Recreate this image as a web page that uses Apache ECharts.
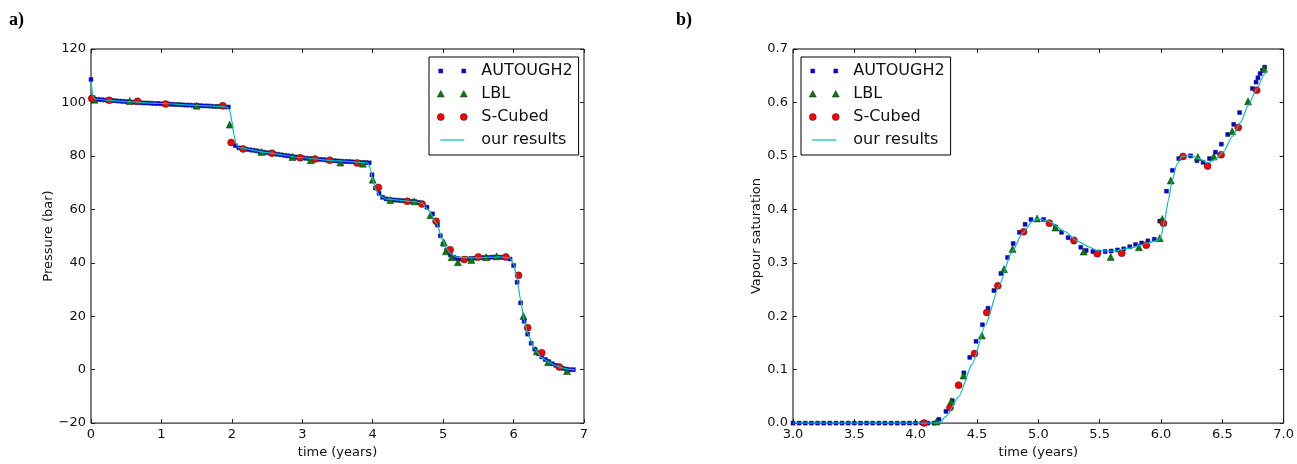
<!DOCTYPE html>
<html>
<head>
<meta charset="utf-8">
<script src="https://cdn.jsdelivr.net/npm/echarts@6/dist/echarts.min.js"></script>
<style>
html,body{margin:0;padding:0;background:#fff;}
#chart{width:1297px;height:464px;}
</style>
</head>
<body>
<div id="chart"></div>
<script>
// ---------- Panel a) Pressure (bar) vs time (years) ----------
const pressureAutough2 = [
  [0.00,108.6],[0.03,101.8],[0.05,101.2],[0.10,101.1],[0.15,101.0],[0.20,100.9],[0.25,100.8],[0.30,100.7],
  [0.35,100.6],[0.40,100.5],[0.45,100.4],[0.50,100.3],[0.55,100.2],[0.60,100.1],[0.65,100.0],[0.70,99.9],
  [0.75,99.8],[0.80,99.8],[0.85,99.7],[0.90,99.6],[0.95,99.6],[1.00,99.5],[1.05,99.4],[1.10,99.4],
  [1.15,99.3],[1.20,99.2],[1.25,99.2],[1.30,99.1],[1.35,99.0],[1.40,99.0],[1.45,98.9],[1.50,98.9],
  [1.55,98.8],[1.60,98.7],[1.65,98.7],[1.70,98.6],[1.75,98.5],[1.80,98.5],[1.85,98.4],[1.90,98.3],[1.95,98.3],
  [2.05,83.8],[2.10,83.0],[2.15,82.7],[2.20,82.5],[2.25,82.3],[2.30,82.1],[2.35,81.9],[2.40,81.6],[2.45,81.4],
  [2.50,81.2],[2.55,81.0],[2.60,80.8],[2.65,80.6],[2.70,80.4],[2.75,80.2],[2.80,80.0],[2.85,79.8],[2.90,79.6],
  [2.95,79.4],[3.00,79.3],[3.05,79.1],[3.10,79.0],[3.15,78.9],[3.20,78.8],[3.25,78.7],[3.30,78.6],[3.35,78.4],
  [3.40,78.3],[3.45,78.2],[3.50,78.1],[3.55,78.0],[3.60,77.9],[3.65,77.9],[3.70,77.8],[3.75,77.7],[3.80,77.6],
  [3.85,77.5],[3.90,77.5],[3.95,77.4],
  [3.99,72.9],[4.04,68.0],[4.09,66.0],[4.14,64.5],[4.19,63.9],[4.25,63.6],[4.30,63.5],[4.35,63.4],[4.40,63.3],
  [4.45,63.2],[4.50,63.1],[4.55,63.0],[4.60,62.9],[4.65,62.6],[4.70,62.0],[4.77,60.8],[4.85,58.3],[4.92,54.1],
  [4.96,50.1],[5.00,47.0],[5.05,44.6],[5.10,43.0],[5.15,42.1],[5.20,41.6],[5.25,41.4],[5.30,41.4],[5.35,41.5],
  [5.40,41.6],[5.45,41.7],[5.50,41.8],[5.55,41.9],[5.60,42.0],[5.65,42.0],[5.70,42.1],[5.75,42.1],[5.80,42.1],
  [5.85,42.0],[5.90,41.9],[5.95,41.4],
  [6.00,39.0],[6.05,32.7],[6.10,25.0],[6.15,18.1],[6.20,13.3],[6.25,9.9],[6.30,7.7],[6.35,6.0],[6.40,4.8],
  [6.45,3.8],[6.50,3.0],[6.55,2.2],[6.60,1.6],[6.65,1.0],[6.70,0.5],[6.75,0.2],[6.80,0.0],[6.85,0.0]
];
const pressureLbl = [
  [0.05,101.0],[0.55,100.5],[1.50,98.8],[1.97,91.7],[2.42,81.5],[2.86,79.6],[3.12,78.4],[3.54,77.5],
  [3.86,77.1],[4.00,71.1],[4.25,63.5],[4.59,63.0],[4.82,57.8],[5.01,47.6],[5.04,44.3],[5.12,42.1],
  [5.21,40.2],[5.40,41.0],[5.61,42.1],[5.76,42.4],[6.14,20.1],[6.33,6.9],[6.49,2.8],[6.76,-0.5]
];
const pressureSCubed = [
  [0.01,101.5],[0.26,100.8],[0.66,100.4],[1.06,99.4],[1.87,98.8],[1.99,85.0],[2.16,82.6],[2.57,81.0],
  [2.97,79.3],[3.18,78.8],[3.39,78.4],[3.78,77.3],[4.08,68.2],[4.49,63.0],[4.70,62.0],[4.90,55.5],
  [5.10,44.9],[5.30,41.2],[5.50,42.2],[5.89,42.2],[6.07,35.3],[6.20,15.7],[6.40,6.3],[6.65,1.0]
];
const pressureOurs = [
  [0.00,108.0],[0.03,102.0],[0.06,101.2],[0.50,100.3],[1.00,99.6],[1.50,98.9],[1.93,98.3],[1.97,97.0],
  [2.00,93.0],[2.03,88.0],[2.06,84.5],[2.10,83.1],[2.50,81.2],[3.00,79.3],[3.50,78.1],[3.93,77.4],
  [3.97,75.0],[4.00,71.0],[4.05,67.0],[4.10,65.0],[4.20,63.8],[4.60,62.9],[4.70,62.2],[4.80,59.5],
  [4.90,55.0],[5.00,48.0],[5.05,45.3],[5.10,43.5],[5.20,42.0],[5.40,41.8],[5.80,42.2],[5.95,41.8],
  [6.00,39.5],[6.05,34.0],[6.10,26.0],[6.15,18.5],[6.20,13.5],[6.30,7.8],[6.40,4.5],[6.50,2.8],
  [6.60,1.5],[6.70,0.6],[6.80,0.1],[6.87,0.0]
];

// ---------- Panel b) Vapour saturation vs time (years) ----------
const saturationAutough2 = [
  [3.00,0],[3.05,0],[3.10,0],[3.15,0],[3.20,0],[3.25,0],[3.30,0],[3.35,0],[3.40,0],[3.45,0],[3.50,0],[3.55,0],
  [3.60,0],[3.65,0],[3.70,0],[3.75,0],[3.80,0],[3.85,0],[3.90,0],[3.95,0],[4.00,0],[4.05,0],[4.10,0],[4.15,0],
  [4.19,0.007],[4.247,0.022],[4.298,0.042],[4.393,0.094],[4.441,0.123],[4.492,0.153],[4.544,0.184],
  [4.59,0.215],[4.638,0.248],[4.695,0.280],[4.749,0.310],[4.795,0.336],[4.846,0.357],[4.892,0.372],
  [4.94,0.381],[5.043,0.381],[5.09,0.376],[5.14,0.367],[5.189,0.357],[5.243,0.347],[5.29,0.339],
  [5.346,0.329],[5.39,0.323],[5.445,0.321],[5.494,0.320],[5.545,0.321],[5.594,0.322],[5.645,0.324],
  [5.696,0.326],[5.745,0.330],[5.793,0.334],[5.842,0.337],[5.893,0.341],[5.945,0.344],[5.99,0.378],
  [6.045,0.434],[6.093,0.473],[6.145,0.495],[6.241,0.500],[6.293,0.491],[6.343,0.488],[6.395,0.495],
  [6.444,0.507],[6.492,0.522],[6.544,0.540],[6.593,0.559],[6.641,0.581],[6.745,0.626],[6.775,0.638],
  [6.79,0.646],[6.808,0.654],[6.827,0.660],[6.845,0.666]
];
const saturationLbl = [
  [4.17,0.003],[4.29,0.041],[4.39,0.089],[4.54,0.164],[4.72,0.288],[4.79,0.326],[4.99,0.383],[5.14,0.366],
  [5.37,0.321],[5.59,0.311],[5.82,0.329],[5.99,0.346],[6.01,0.382],[6.08,0.454],[6.30,0.498],[6.43,0.499],
  [6.58,0.546],[6.71,0.602],[6.84,0.663]
];
const saturationSCubed = [
  [4.07,0.0],[4.28,0.029],[4.35,0.071],[4.48,0.130],[4.58,0.207],[4.67,0.257],[4.88,0.358],[5.09,0.374],
  [5.29,0.342],[5.48,0.317],[5.68,0.318],[5.88,0.333],[6.02,0.374],[6.18,0.499],[6.38,0.481],[6.49,0.502],
  [6.63,0.553],[6.78,0.623]
];
const saturationOurs = [
  [3.00,0],[4.19,0],[4.25,0.013],[4.35,0.049],[4.46,0.110],[4.57,0.184],[4.68,0.257],[4.78,0.318],
  [4.87,0.355],[4.95,0.377],[5.00,0.382],[5.08,0.378],[5.22,0.358],[5.32,0.340],[5.43,0.328],[5.49,0.322],
  [5.62,0.322],[5.76,0.328],[5.89,0.337],[5.985,0.343],[6.00,0.349],[6.03,0.380],[6.06,0.417],[6.09,0.453],
  [6.13,0.484],[6.17,0.499],[6.24,0.501],[6.31,0.495],[6.38,0.487],[6.44,0.493],[6.51,0.508],[6.58,0.536],
  [6.65,0.563],[6.71,0.594],[6.78,0.625],[6.84,0.652],[6.86,0.660]
];

const seriesNames = ['AUTOUGH2', 'LBL', 'S-Cubed', 'our results'];
const panelLabels = ['a)', 'b)'];
const axisTitles = { x: 'time (years)', yLeft: 'Pressure (bar)', yRight: 'Vapour saturation' };

const FONT = 'DejaVu Sans';
const COL = { blue: '#0000ff', green: '#008000', red: '#ff0000', cyan: '#00bfbf' };
const EDGE = '#222';

const chart = echarts.init(document.getElementById('chart'), null, { renderer: 'canvas' });

function minusFmt(v) { return v < 0 ? '\u2212' + (-v) : String(v); }

function axisPair(type, grid, opts, fmt, name, nameGap) {
  const tick = { show: true, inside: true, length: 4, lineStyle: { color: '#222', width: 1 } };
  const main = Object.assign({
    type: 'value', gridIndex: grid,
    position: type === 'x' ? 'bottom' : 'left',
    axisLine: { show: false, onZero: false },
    axisTick: tick,
    axisLabel: { show: true, color: '#111', fontFamily: FONT, fontSize: 13, margin: 5, formatter: fmt },
    splitLine: { show: false },
    name: name, nameLocation: 'middle', nameGap: nameGap,
    nameTextStyle: { color: '#111', fontFamily: FONT, fontSize: 13 }
  }, opts);
  const mirror = Object.assign({
    type: 'value', gridIndex: grid,
    position: type === 'x' ? 'top' : 'right',
    axisLine: { show: false, onZero: false },
    axisTick: tick,
    axisLabel: { show: false },
    splitLine: { show: false }
  }, opts);
  return [main, mirror];
}

const xAxes = [].concat(
  axisPair('x', 0, { min: 0, max: 7, interval: 1 }, v => String(v), axisTitles.x, 20),
  axisPair('x', 1, { min: 3, max: 7, interval: 0.5 }, v => v.toFixed(1), axisTitles.x, 20)
);
const yAxes = [].concat(
  axisPair('y', 0, { min: -20, max: 120, interval: 20 }, minusFmt, axisTitles.yLeft, 36),
  axisPair('y', 1, { min: 0, max: 0.7, interval: 0.1 }, v => v.toFixed(1), axisTitles.yRight, 30)
);

const iconSquares = 'path://M0,0M30,8M1.5,2h4v4h-4zM24.5,2h4v4h-4z';
const iconTriangles = 'path://M0,0M30,8M0,7L3.5,0.5L7,7zM23,7L26.5,0.5L30,7z';
const iconCircles = 'path://M0,0M30,8M0,4A3.5,3.5,0,1,0,7,4A3.5,3.5,0,1,0,0,4zM23,4A3.5,3.5,0,1,0,30,4A3.5,3.5,0,1,0,23,4z';
const iconLine = 'path://M0,0M30,8M3,3.4h24v1.2h-24z';

function legendFor(left) {
  const st = c => ({ color: c, borderColor: EDGE, borderWidth: 0.5, opacity: 1 });
  return {
    orient: 'vertical', left: left, top: 57,
    itemWidth: 30, itemHeight: 8, itemGap: 7,
    padding: [6, 6, 7, 8],
    borderColor: '#000', borderWidth: 1, backgroundColor: '#fff',
    textStyle: { color: '#111', fontFamily: FONT, fontSize: 16, lineHeight: 16, padding: [0, 0, 0, 9] },
    selectedMode: false,
    data: [
      { name: seriesNames[0], icon: iconSquares, itemStyle: st(COL.blue) },
      { name: seriesNames[1], icon: iconTriangles, itemStyle: st(COL.green) },
      { name: seriesNames[2], icon: iconCircles, itemStyle: st(COL.red) },
      { name: seriesNames[3], icon: iconLine, itemStyle: { color: COL.cyan, borderWidth: 0, opacity: 1 } }
    ]
  };
}

function panelSeries(xi, yi, a2, lbl, sc, ours) {
  const mark = { borderColor: EDGE, borderWidth: 0.5, opacity: 1 };
  return [
    { name: seriesNames[0], type: 'scatter', xAxisIndex: xi, yAxisIndex: yi, data: a2,
      symbol: 'rect', symbolSize: 4, itemStyle: Object.assign({ color: COL.blue }, mark), z: 2 },
    { name: seriesNames[1], type: 'scatter', xAxisIndex: xi, yAxisIndex: yi, data: lbl,
      symbol: 'triangle', symbolSize: [7, 7], itemStyle: Object.assign({ color: COL.green }, mark), z: 3 },
    { name: seriesNames[2], type: 'scatter', xAxisIndex: xi, yAxisIndex: yi, data: sc,
      symbol: 'circle', symbolSize: 7, itemStyle: Object.assign({ color: COL.red }, mark), z: 4 },
    { name: seriesNames[3], type: 'line', xAxisIndex: xi, yAxisIndex: yi, data: ours,
      symbol: 'none', showSymbol: false, smooth: 0.2, smoothMonotone: 'x',
      lineStyle: { color: COL.cyan, width: 1.2 }, itemStyle: { color: COL.cyan, borderWidth: 0 }, z: 5 }
  ];
}

const option = {
  animation: false,
  backgroundColor: '#fff',
  title: [
    { text: panelLabels[0], left: 9, top: 11, padding: 0,
      textStyle: { fontFamily: 'Liberation Serif', fontWeight: 'bold', fontSize: 18, color: '#000' } },
    { text: panelLabels[1], left: 676, top: 11, padding: 0,
      textStyle: { fontFamily: 'Liberation Serif', fontWeight: 'bold', fontSize: 18, color: '#000' } }
  ],
  grid: [
    { left: 91, top: 49, width: 493, height: 381, show: true, borderColor: '#000', borderWidth: 1, backgroundColor: 'transparent' },
    { left: 793, top: 49, width: 494, height: 381, show: true, borderColor: '#000', borderWidth: 1, backgroundColor: 'transparent' }
  ],
  xAxis: xAxes,
  yAxis: yAxes,
  legend: [legendFor(429), legendFor(801)],
  series: [].concat(
    panelSeries(0, 0, pressureAutough2, pressureLbl, pressureSCubed, pressureOurs),
    panelSeries(2, 2, saturationAutough2, saturationLbl, saturationSCubed, saturationOurs)
  )
};
chart.setOption(option);
</script>
</body>
</html>
